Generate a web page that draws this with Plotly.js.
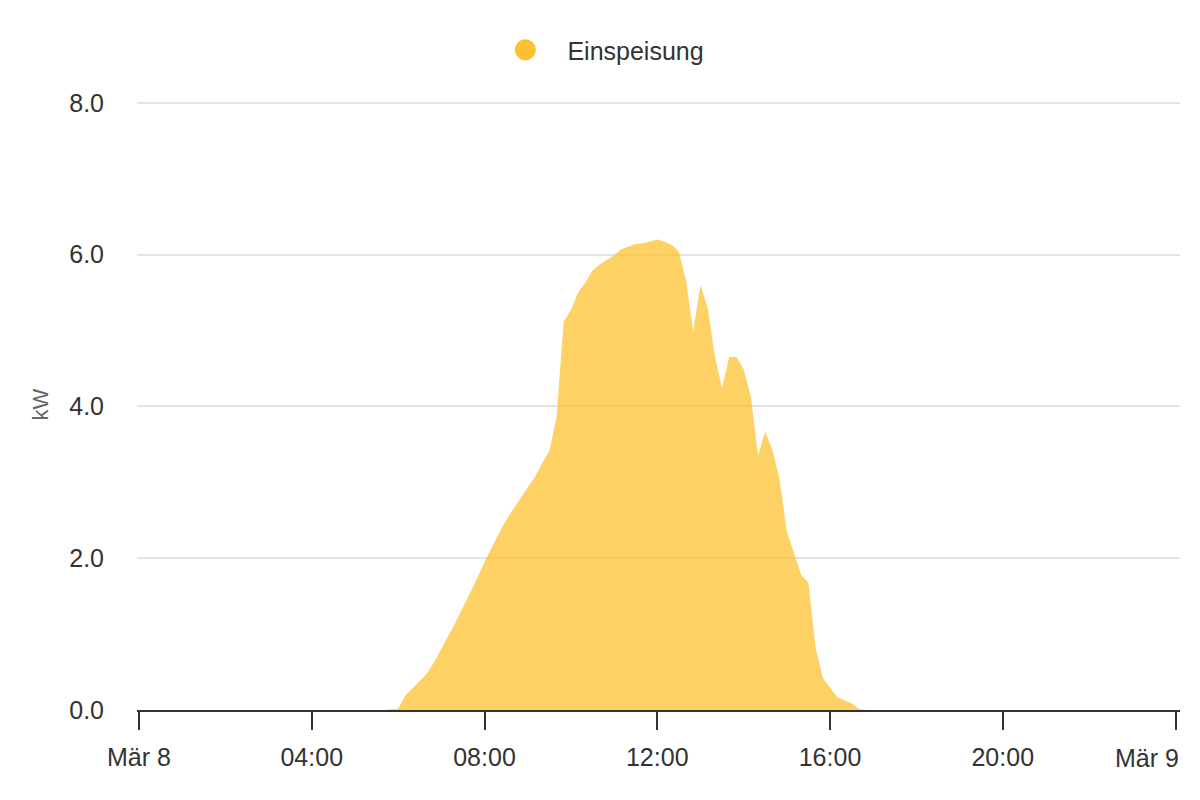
<!DOCTYPE html>
<html>
<head>
<meta charset="utf-8">
<script src="https://cdn.plot.ly/plotly-3.0.1.min.js"></script>
<style>
  html, body { margin: 0; padding: 0; background: #ffffff; }
  #chart { width: 1200px; height: 800px; }
</style>
</head>
<body>
<div id="chart"></div>
<script>
// ---- data ----
var seriesName = "Einspeisung";
var yAxisTitle = "kW";

var times = [
  "2024-03-08 05:40", "2024-03-08 05:50",
  "2024-03-08 06:00", "2024-03-08 06:10", "2024-03-08 06:20", "2024-03-08 06:30", "2024-03-08 06:40", "2024-03-08 06:50",
  "2024-03-08 07:00", "2024-03-08 07:10", "2024-03-08 07:20", "2024-03-08 07:30", "2024-03-08 07:40", "2024-03-08 07:50",
  "2024-03-08 08:00", "2024-03-08 08:10", "2024-03-08 08:20", "2024-03-08 08:30", "2024-03-08 08:40", "2024-03-08 08:50",
  "2024-03-08 09:00", "2024-03-08 09:10", "2024-03-08 09:20", "2024-03-08 09:30", "2024-03-08 09:40", "2024-03-08 09:50",
  "2024-03-08 10:00", "2024-03-08 10:10", "2024-03-08 10:20", "2024-03-08 10:30", "2024-03-08 10:40", "2024-03-08 10:50",
  "2024-03-08 11:00", "2024-03-08 11:10", "2024-03-08 11:20", "2024-03-08 11:30", "2024-03-08 11:40", "2024-03-08 11:50",
  "2024-03-08 12:00", "2024-03-08 12:10", "2024-03-08 12:20", "2024-03-08 12:30", "2024-03-08 12:40", "2024-03-08 12:50",
  "2024-03-08 13:00", "2024-03-08 13:10", "2024-03-08 13:20", "2024-03-08 13:30", "2024-03-08 13:40", "2024-03-08 13:50",
  "2024-03-08 14:00", "2024-03-08 14:10", "2024-03-08 14:20", "2024-03-08 14:30", "2024-03-08 14:40", "2024-03-08 14:50",
  "2024-03-08 15:00", "2024-03-08 15:10", "2024-03-08 15:20", "2024-03-08 15:30", "2024-03-08 15:40", "2024-03-08 15:50",
  "2024-03-08 16:00", "2024-03-08 16:10", "2024-03-08 16:20", "2024-03-08 16:30", "2024-03-08 16:40", "2024-03-08 16:50"
];

var power = [
  0.00, 0.01,
  0.02, 0.19, 0.29, 0.38, 0.48, 0.63,
  0.80, 0.98, 1.16, 1.35, 1.54, 1.74,
  1.95, 2.15, 2.33, 2.50, 2.65, 2.79,
  2.93, 3.07, 3.25, 3.41, 3.85, 5.12,
  5.27, 5.50, 5.63, 5.79, 5.87, 5.93,
  5.99, 6.07, 6.10, 6.14, 6.15, 6.18,
  6.20, 6.17, 6.13, 6.04, 5.66, 4.99,
  5.60, 5.30, 4.66, 4.24, 4.65, 4.65,
  4.49, 4.13, 3.35, 3.67, 3.43, 3.04,
  2.35, 2.07, 1.78, 1.68, 0.82, 0.42,
  0.29, 0.17, 0.13, 0.09, 0.015, 0.00
];

var tickTimes = ["2024-03-08 00:00", "2024-03-08 04:00", "2024-03-08 08:00", "2024-03-08 12:00",
                 "2024-03-08 16:00", "2024-03-08 20:00", "2024-03-09 00:00"];
var tickLabels = ["Mär 8", "04:00", "08:00", "12:00", "16:00", "20:00", "Mär 9"];

var yTickVals = [0, 2, 4, 6, 8];
var yTickLabels = ["0.0", "2.0", "4.0", "6.0", "8.0"];

// ---- chart ----
var mainColor = "#fdc12f";
var font = "Liberation Sans, Arial, sans-serif";
var fs = 25;

var traces = [
  {
    x: times, y: power,
    type: "scatter", mode: "lines",
    fill: "tozeroy",
    fillcolor: "rgba(253,193,47,0.74)",
    line: { width: 0, color: mainColor },
    showlegend: false,
    hoverinfo: "skip"
  },
  {
    x: [null], y: [null],
    type: "scatter", mode: "markers",
    name: seriesName,
    marker: { color: mainColor, size: 16, symbol: "circle", line: { color: mainColor, width: 5 } },
    showlegend: true,
    hoverinfo: "skip"
  }
];

// last tick label shown shifted left (label drawn as annotation)
var shownTickText = tickLabels.slice(0, tickLabels.length - 1).concat([""]);

var layout = {
  width: 1200, height: 800,
  paper_bgcolor: "#ffffff", plot_bgcolor: "#ffffff",
  margin: { l: 137, r: 20, t: 99, b: 90 },
  font: { family: font, color: "#333333", size: fs },
  showlegend: true,
  legend: {
    orientation: "h",
    xref: "container", yref: "container",
    x: 0.497, xanchor: "center",
    y: 0.9375, yanchor: "middle",
    font: { family: font, size: fs, color: "#333333" },
    itemsizing: "trace",
    itemwidth: 74,
    bgcolor: "rgba(0,0,0,0)"
  },
  xaxis: {
    type: "date",
    range: ["2024-03-07 23:57:13", "2024-03-09 00:06:15"],
    tickmode: "array",
    tickvals: tickTimes,
    ticktext: shownTickText,
    ticks: "outside", ticklen: 18, tickwidth: 2, tickcolor: "#333333",
    showline: true, linecolor: "#333333", linewidth: 2,
    showgrid: false, zeroline: false,
    tickfont: { family: font, size: fs, color: "#333333" },
    ticklabelstandoff: 6,
    fixedrange: true
  },
  yaxis: {
    range: [0, 8.05],
    tickmode: "array",
    tickvals: yTickVals,
    ticktext: yTickLabels,
    showline: false, zeroline: false,
    showgrid: true, gridcolor: "#e4e4e4", gridwidth: 2,
    ticks: "", ticklabelstandoff: 32,
    tickfont: { family: font, size: fs, color: "#333333" },
    title: { text: yAxisTitle, font: { family: font, size: 22, color: "#666666" }, standoff: 14 },
    fixedrange: true
  },
  annotations: [
    {
      x: tickTimes[tickTimes.length - 1], xref: "x",
      y: 0, yref: "paper",
      yanchor: "top", xanchor: "right",
      xshift: 5, yshift: -32,
      text: tickLabels[tickLabels.length - 1],
      showarrow: false,
      font: { family: font, size: fs, color: "#333333" }
    }
  ]
};

Plotly.newPlot("chart", traces, layout, { displayModeBar: false, staticPlot: true });
</script>
</body>
</html>
